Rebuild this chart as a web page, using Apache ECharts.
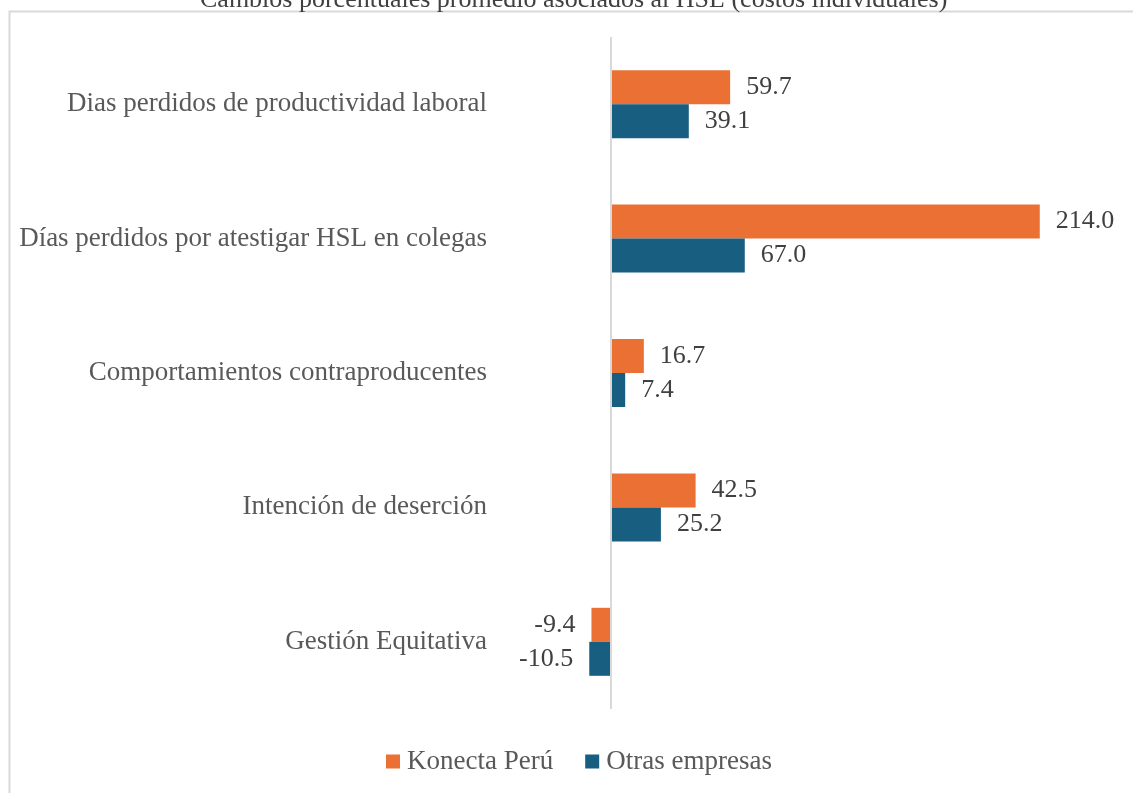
<!DOCTYPE html>
<html>
<head>
<meta charset="utf-8">
<script src="https://cdn.jsdelivr.net/npm/echarts@6/dist/echarts.min.js"></script>
<style>
  html, body { margin: 0; padding: 0; background: #fff; }
  #chart { width: 1133px; height: 793px; }
</style>
</head>
<body>
<div id="chart"></div>
<script>
var categories = [
  'Dias perdidos de productividad laboral',
  'Días perdidos por atestigar HSL en colegas',
  'Comportamientos contraproducentes',
  'Intención de deserción',
  'Gestión Equitativa'
];
var konecta = [59.7, 214.0, 16.7, 42.5, -9.4];
var otras = [39.1, 67.0, 7.4, 25.2, -10.5];

var serif = '"Liberation Serif", "DejaVu Serif", serif';

function withLabels(values) {
  // negative values get the label on the left side of the bar
  return values.map(function (v) {
    return { value: v, label: { position: v < 0 ? 'left' : 'right' } };
  });
}

var myChart = echarts.init(document.getElementById('chart'));

var option = {
  animation: false,
  textStyle: { fontFamily: serif },
  title: {
    text: 'Cambios porcentuales promedio asociados al HSL (costos individuales)',
    left: 195,
    top: -18,
    textStyle: { fontFamily: serif, fontSize: 26, fontWeight: 'normal', color: '#404040' }
  },
  graphic: [{
    type: 'rect',
    left: 7,
    top: 9,
    shape: { width: 1140, height: 800 },
    style: { fill: 'none', stroke: '#d9d9d9', lineWidth: 2 },
    silent: true,
    z: -1
  }],
  legend: {
    bottom: 13,
    left: 381,
    itemWidth: 14,
    itemHeight: 14,
    itemGap: 32,
    icon: 'rect',
    textStyle: { fontFamily: serif, fontSize: 27, color: '#595959', padding: [0, 0, 0, 2] },
    data: ['Konecta Perú', 'Otras empresas']
  },
  grid: { left: 510, right: 21, top: 37, bottom: 84 },
  xAxis: {
    type: 'value',
    min: -50,
    max: 250,
    show: false
  },
  yAxis: {
    type: 'category',
    data: categories,
    inverse: true,
    axisLine: { show: false },
    axisTick: { show: false },
    axisLabel: { fontFamily: serif, fontSize: 27, color: '#595959', margin: 23 }
  },
  series: [
    {
      name: 'Konecta Perú',
      type: 'bar',
      data: withLabels(konecta),
      barWidth: 34,
      barGap: '0%',
      itemStyle: { color: '#ea7133' },
      label: {
        show: true,
        distance: 16,
        fontFamily: serif,
        fontSize: 26,
        color: '#404040',
        formatter: function (p) { return p.value.toFixed(1); }
      },
      markLine: {
        silent: true,
        symbol: 'none',
        label: { show: false },
        lineStyle: { color: '#d9d9d9', width: 2, type: 'solid' },
        data: [{ xAxis: 0 }]
      }
    },
    {
      name: 'Otras empresas',
      type: 'bar',
      data: withLabels(otras),
      barWidth: 34,
      itemStyle: { color: '#175e80' },
      label: {
        show: true,
        distance: 16,
        fontFamily: serif,
        fontSize: 26,
        color: '#404040',
        formatter: function (p) { return p.value.toFixed(1); }
      }
    }
  ]
};

myChart.setOption(option);
</script>
</body>
</html>
